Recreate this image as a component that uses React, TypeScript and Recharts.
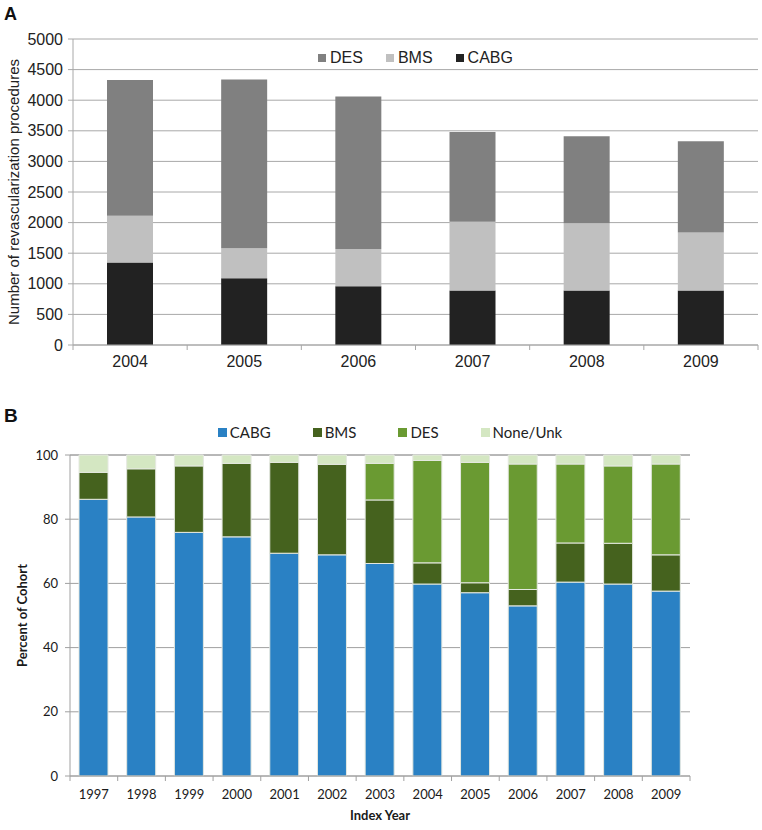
import { BarChart, Bar, XAxis, YAxis, CartesianGrid } from 'recharts';

// Panel A: revascularization procedures by year
const yearsA = ['2004', '2005', '2006', '2007', '2008', '2009'];
const cabgA = [1350, 1090, 960, 890, 890, 890];
const bmsA = [760, 490, 610, 1125, 1100, 950];
const desA = [2220, 2760, 2490, 1465, 1420, 1490];
const ticksA = [0, 500, 1000, 1500, 2000, 2500, 3000, 3500, 4000, 4500, 5000];
const legendA = [
  { name: 'DES', color: '#808080' },
  { name: 'BMS', color: '#c0c0c0' },
  { name: 'CABG', color: '#222222' },
];

// Panel B: percent of cohort by index year
const yearsB = ['1997', '1998', '1999', '2000', '2001', '2002', '2003', '2004', '2005', '2006', '2007', '2008', '2009'];
const cabgB = [86.2, 80.7, 75.9, 74.5, 69.4, 68.9, 66.2, 59.8, 57.1, 53.0, 60.4, 59.8, 57.6];
const bmsB = [8.4, 15.0, 20.7, 22.9, 28.3, 28.2, 19.8, 6.6, 3.1, 5.1, 12.2, 12.7, 11.3];
const desB = [0, 0, 0, 0, 0, 0, 11.4, 31.9, 37.5, 39.1, 24.6, 24.1, 28.3];
const noneB = [5.4, 4.3, 3.4, 2.6, 2.3, 2.9, 2.6, 1.7, 2.3, 2.8, 2.8, 3.4, 2.8];
const ticksB = [0, 20, 40, 60, 80, 100];
const legendB = [
  { name: 'CABG', color: '#2a81c4' },
  { name: 'BMS', color: '#45621e' },
  { name: 'DES', color: '#6a9a32' },
  { name: 'None/Unk', color: '#d4e7c2' },
];

const dataA = yearsA.map((year, i) => ({ year, CABG: cabgA[i], BMS: bmsA[i], DES: desA[i] }));
const dataB = yearsB.map((year, i) => ({ year, CABG: cabgB[i], BMS: bmsB[i], DES: desB[i], None: noneB[i] }));

const SANS_A = '"Liberation Sans", Arial, sans-serif';
const SANS_B = 'Lato, "Open Sans", sans-serif';

// x tick with Excel-style marks on category boundaries
function boundaryTick(band: number, count: number, font: string, size: number, color: string, gap: number, axisColor: string) {
  return (props: any) => {
    const { x, y, payload, index } = props;
    const left = x - band / 2;
    const right = x + band / 2;
    return (
      <g>
        <line x1={left} x2={left} y1={y} y2={y + 5} stroke={axisColor} />
        {index === count - 1 && <line x1={right} x2={right} y1={y} y2={y + 5} stroke={axisColor} />}
        <text x={x} y={y + gap} textAnchor="middle" fontFamily={font} fontSize={size} fill={color}>
          {payload.value}
        </text>
      </g>
    );
  };
}

function LegendRow({ items, font, size, box, gap, textGap, style }: any) {
  return (
    <div style={{ position: 'absolute', display: 'flex', justifyContent: 'center', fontFamily: font, fontSize: size, color: '#222', lineHeight: 1, ...style }}>
      {items.map((it: any) => (
        <div key={it.name} style={{ display: 'flex', alignItems: 'center', margin: `0 ${gap / 2}px` }}>
          <span style={{ width: box, height: box, background: it.color, display: 'inline-block', marginRight: textGap }} />
          <span>{it.name}</span>
        </div>
      ))}
    </div>
  );
}

function PanelA() {
  const plotW = 762 - 73 - 4;
  const band = plotW / yearsA.length;
  return (
    <BarChart width={762} height={375} data={dataA} margin={{ top: 39, right: 4, bottom: 0, left: 13 }}>
      <CartesianGrid vertical={false} stroke="#a8a8a8" />
      <XAxis
        dataKey="year"
        height={30}
        stroke="#a8a8a8"
        tickLine={false}
        tickSize={0}
        tickMargin={0}
        interval={0}
        tick={boundaryTick(band, yearsA.length, SANS_A, 16, '#222', 22, '#a8a8a8')}
      />
      <YAxis
        width={60}
        domain={[0, 5000]}
        ticks={ticksA}
        interval={0}
        stroke="#a8a8a8"
        tickSize={5}
        tickMargin={5}
        tick={{ fill: '#222', fontSize: 16, fontFamily: SANS_A }}
        label={{
          content: ({ viewBox }: any) => (
            <text
              x={13}
              y={viewBox.y + viewBox.height / 2}
              transform={`rotate(-90 13 ${viewBox.y + viewBox.height / 2})`}
              textAnchor="middle"
              dominantBaseline="central"
              fontFamily={SANS_A}
              fontSize={15}
              fill="#222"
            >
              Number of revascularization procedures
            </text>
          ),
        }}
      />
      <Bar dataKey="CABG" stackId="a" fill="#222222" barSize={46} isAnimationActive={false} />
      <Bar dataKey="BMS" stackId="a" fill="#c0c0c0" barSize={46} isAnimationActive={false} />
      <Bar dataKey="DES" stackId="a" fill="#808080" barSize={46} isAnimationActive={false} />
    </BarChart>
  );
}

function PanelB() {
  const plotW = 690 - 70;
  const band = plotW / yearsB.length;
  const seg = '#e4e8e0';
  return (
    <BarChart width={762} height={440} data={dataB} margin={{ top: 65, right: 72, bottom: 0, left: 20 }}>
      <CartesianGrid vertical={false} stroke="#a0a0a0" />
      <XAxis
        dataKey="year"
        height={54}
        stroke="#a0a0a0"
        tickLine={false}
        tickSize={0}
        tickMargin={0}
        interval={0}
        tick={boundaryTick(band, yearsB.length, SANS_B, 13, '#1a1a1a', 23, '#a0a0a0')}
        label={{
          content: ({ viewBox }: any) => (
            <text
              x={viewBox.x + viewBox.width / 2}
              y={viewBox.y + 44}
              textAnchor="middle"
              fontFamily={SANS_B}
              fontWeight="bold"
              fontSize={13}
              fill="#1a1a1a"
            >
              Index Year
            </text>
          ),
        }}
      />
      <YAxis
        width={50}
        domain={[0, 100]}
        ticks={ticksB}
        interval={0}
        stroke="#a0a0a0"
        tickSize={5}
        tickMargin={7}
        tick={{ fill: '#1a1a1a', fontSize: 13, fontFamily: SANS_B }}
        label={{
          content: ({ viewBox }: any) => (
            <text
              x={22}
              y={viewBox.y + viewBox.height / 2}
              transform={`rotate(-90 22 ${viewBox.y + viewBox.height / 2})`}
              textAnchor="middle"
              dominantBaseline="central"
              fontFamily={SANS_B}
              fontWeight="bold"
              fontSize={13}
              fill="#1a1a1a"
            >
              Percent of Cohort
            </text>
          ),
        }}
      />
      <Bar dataKey="CABG" stackId="b" fill="#2a81c4" stroke={seg} barSize={29} isAnimationActive={false} />
      <Bar dataKey="BMS" stackId="b" fill="#45621e" stroke={seg} barSize={29} isAnimationActive={false} />
      <Bar dataKey="DES" stackId="b" fill="#6a9a32" stroke={seg} barSize={29} isAnimationActive={false} />
      <Bar dataKey="None" stackId="b" fill="#d4e7c2" stroke={seg} barSize={29} isAnimationActive={false} />
    </BarChart>
  );
}

export default function App() {
  return (
    <div style={{ position: 'absolute', left: 0, top: 0, width: 762, height: 830, background: '#fff' }}>
      <div style={{ position: 'absolute', left: 0, top: 0 }}>
        <PanelA />
      </div>
      <div style={{ position: 'absolute', left: 0, top: 390 }}>
        <PanelB />
      </div>
      <LegendRow items={legendA} font={SANS_A} size={16} box={8} gap={23} textGap={4} style={{ top: 50, left: 73, width: 685 }} />
      <LegendRow items={legendB} font={SANS_B} size={15} box={9} gap={42} textGap={3} style={{ top: 425, left: 18, width: 744 }} />
      <svg width={762} height={830} style={{ position: 'absolute', left: 0, top: 0, pointerEvents: 'none' }}>
        <text x={4} y={20} fontFamily={SANS_A} fontWeight="bold" fontSize={18} fill="#111">A</text>
        <text x={4} y={422} fontFamily={SANS_A} fontWeight="bold" fontSize={19} fill="#111">B</text>
      </svg>
    </div>
  );
}
